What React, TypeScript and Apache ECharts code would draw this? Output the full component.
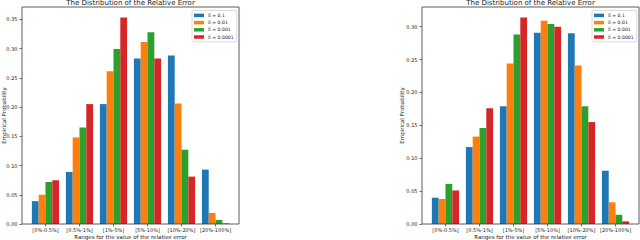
import React, { useEffect, useRef } from "react";
import * as echarts from "echarts";

const categories = ["[0%-0.5%]", "[0.5%-1%]", "[1%-5%]", "[5%-10%]", "[10%-20%]", "[20%-100%]"];
const seriesNames = ["δ = 0.1", "δ = 0.01", "δ = 0.001", "δ = 0.0001"];
const colors = ["#1f77b4", "#ff7f0e", "#2ca02c", "#d62728"];

// left panel
const left_d1 = [0.039, 0.089, 0.205, 0.283, 0.288, 0.093];
const left_d01 = [0.050, 0.148, 0.261, 0.311, 0.206, 0.019];
const left_d001 = [0.072, 0.165, 0.299, 0.328, 0.127, 0.007];
const left_d0001 = [0.075, 0.205, 0.353, 0.283, 0.081, 0.001];

// right panel
const right_d1 = [0.040, 0.117, 0.179, 0.291, 0.290, 0.081];
const right_d01 = [0.038, 0.133, 0.244, 0.309, 0.241, 0.033];
const right_d001 = [0.061, 0.146, 0.288, 0.304, 0.179, 0.014];
const right_d0001 = [0.051, 0.176, 0.314, 0.300, 0.155, 0.004];

const leftMax = 0.371;
const rightMax = 0.33;
const yInterval = 0.05;

const titleText = "The Distribution of the Relative Error";
const xName = "Ranges for the value of the relative error";
const yName = "Empirical Probability";

const FONT = "DejaVu Sans";

export default function App() {
  const ref = useRef<HTMLDivElement>(null);
  useEffect(() => {
    if (!ref.current) return;
    const chart = echarts.init(ref.current, undefined, { renderer: "svg" });
    const frames = [22, 422];
    const frameTop = 7;
    const frameH = 217;
    const frameW = 217;
    const unit = frameW / 6.38;
    const gridW = unit * 6;
    const gridOff = unit * 0.19;
    const leftData = [left_d1, left_d01, left_d001, left_d0001];
    const rightData = [right_d1, right_d01, right_d001, right_d0001];

    const grids = frames.map((fx) => ({
      left: fx + gridOff,
      top: frameTop,
      width: gridW,
      height: frameH,
    }));

    const xAxes = [0, 1].map((i) => ({
      type: "category",
      gridIndex: i,
      data: categories,
      boundaryGap: true,
      axisLine: { show: false },
      axisTick: { show: true, alignWithLabel: true, length: 2.5, lineStyle: { color: "#333", width: 0.7 } },
      axisLabel: { fontSize: 5, color: "#222", fontFamily: FONT, margin: 3, interval: 0 },
    }));

    const yAxes = [0, 1].map((i) => ({
      type: "value",
      gridIndex: i,
      min: 0,
      max: i === 0 ? leftMax : rightMax,
      interval: yInterval,
      offset: gridOff,
      splitLine: { show: false },
      axisLine: { show: false },
      axisTick: { show: true, length: 2.5, lineStyle: { color: "#333", width: 0.7 } },
      axisLabel: {
        fontSize: 5,
        color: "#222",
        fontFamily: FONT,
        margin: 4.5,
        showMaxLabel: false,
        formatter: (v: number) => v.toFixed(2),
      },
    }));

    const series: any[] = [];
    [leftData, rightData].forEach((set, gi) => {
      set.forEach((vals, si) => {
        series.push({
          type: "bar",
          name: seriesNames[si],
          xAxisIndex: gi,
          yAxisIndex: gi,
          data: vals,
          barWidth: "20%",
          barGap: "0%",
          itemStyle: { color: colors[si] },
        });
      });
    });

    const legends = [
      { left: 192, top: 10.5 },
      { left: 592, top: 10.5 },
    ].map((p) => ({
      ...p,
      orient: "vertical",
      data: seriesNames,
      icon: "rect",
      itemWidth: 10,
      itemHeight: 3.5,
      itemGap: 1.4,
      padding: [2, 3, 2, 2],
      backgroundColor: "rgba(255,255,255,0.8)",
      borderColor: "#ccc",
      borderWidth: 0.7,
      borderRadius: 1.5,
      selectedMode: false,
      textStyle: { fontSize: 4.6, lineHeight: 5.8, color: "#222", fontFamily: FONT, padding: [0, 0, 0, -1] },
    }));

    const graphic: any[] = [];
    frames.forEach((fx) => {
      graphic.push({
        type: "rect",
        shape: { x: fx, y: frameTop, width: frameW, height: frameH },
        style: { fill: "none", stroke: "#333", lineWidth: 0.8 },
        z: 100,
        silent: true,
      });
      graphic.push({
        type: "text",
        x: fx + frameW / 2,
        y: 2.5,
        style: { text: titleText, fontSize: 7, fill: "#222", fontFamily: FONT, align: "center", verticalAlign: "middle" },
      });
      graphic.push({
        type: "text",
        x: fx + frameW / 2,
        y: 236.5,
        style: { text: xName, fontSize: 5.5, fill: "#222", fontFamily: FONT, align: "center", verticalAlign: "middle" },
      });
    });
    [4, 402].forEach((x) => {
      graphic.push({
        type: "text",
        x,
        y: frameTop + frameH / 2,
        rotation: Math.PI / 2,
        style: { text: yName, fontSize: 5.5, fill: "#222", fontFamily: FONT, align: "center", verticalAlign: "middle" },
      });
    });

    chart.setOption({
      animation: false,
      backgroundColor: "#fff",
      grid: grids,
      xAxis: xAxes,
      yAxis: yAxes,
      legend: legends,
      series,
      graphic,
    });
    return () => chart.dispose();
  }, []);
  return <div ref={ref} style={{ position: "fixed", left: 0, top: 0, width: 640, height: 240 }} />;
}
